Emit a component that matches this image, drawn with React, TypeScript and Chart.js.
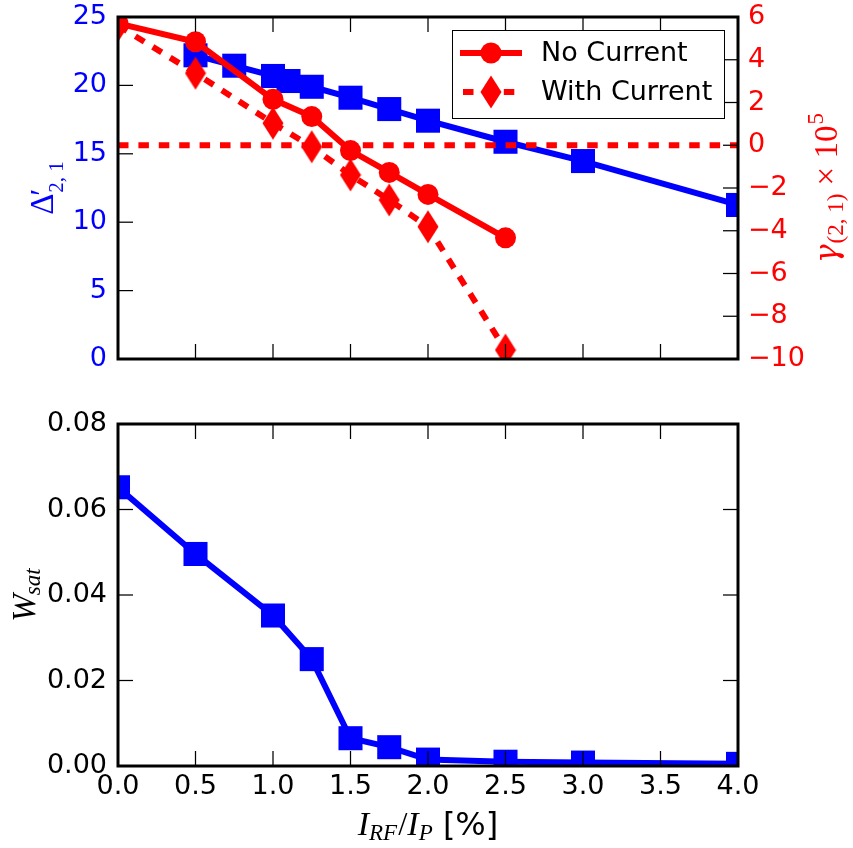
import React, { useEffect, useRef } from 'react';
import { Chart, registerables } from 'chart.js';

Chart.register(...registerables);

// ---------------- data ----------------
const xTickValues = [0, 0.5, 1.0, 1.5, 2.0, 2.5, 3.0, 3.5, 4.0];
const deltaTickValues = [0, 5, 10, 15, 20, 25];
const gammaTickValues = [-10, -8, -6, -4, -2, 0, 2, 4, 6];
const wsatTickValues = [0, 0.02, 0.04, 0.06, 0.08];

const xDelta = [0.5, 0.75, 1.0, 1.1, 1.25, 1.5, 1.75, 2.0, 2.5, 3.0, 4.0];
const deltaPrime = [22.2, 21.44, 20.69, 20.32, 19.9, 19.1, 18.27, 17.42, 15.88, 14.47, 11.26];

const xNoCurrent = [0, 0.5, 1.0, 1.25, 1.5, 1.75, 2.0, 2.5];
const gammaNoCurrent = [5.7, 4.84, 2.15, 1.34, -0.25, -1.27, -2.3, -4.33];

const xWithCurrent = [0, 0.5, 1.0, 1.25, 1.5, 1.75, 2.0, 2.5];
const gammaWithCurrent = [5.6, 3.37, 1.03, -0.07, -1.39, -2.56, -3.81, -9.58];

const xZeroLine = [0, 4];
const yZeroLine = [0, 0];

const xWsat = [0, 0.5, 1.0, 1.25, 1.5, 1.75, 2.0, 2.5, 3.0, 4.0];
const wSat = [0.0652, 0.0496, 0.0352, 0.025, 0.0065, 0.0044, 0.0015, 0.001, 0.0008, 0.0005];

const legendLabels = ['No Current', 'With Current'];

// ---------------- styles ----------------
const BLUE = '#0000ff';
const RED = '#ff0000';
const TICK_FONT = { family: '"DejaVu Sans", sans-serif', size: 27 };
const SERIF = '"Liberation Serif", "DejaVu Serif", serif';
const MATH = 33;
const SUB = 23;
const TICK_LEN = 15;

const pts = (xs: number[], ys: number[]) => xs.map((x, i) => ({ x, y: ys[i] }));
const fixedTicks = (vals: number[]) => (scale: any) => {
  scale.ticks = vals.map((v) => ({ value: v }));
};
const minus = (s: string) => s.replace('-', '\u2212');
const fitTo = (w: number | null, h: number | null) => (s: any) => {
  if (w !== null) s.width = w;
  if (h !== null) s.height = h;
  s.paddingTop = 0;
  s.paddingBottom = 0;
  s.paddingLeft = 0;
  s.paddingRight = 0;
};

function makeDiamond(color: string) {
  const c = document.createElement('canvas');
  c.width = 22;
  c.height = 34;
  const g = c.getContext('2d')!;
  g.fillStyle = color;
  g.beginPath();
  g.moveTo(11, 0.5);
  g.lineTo(21.5, 17);
  g.lineTo(11, 33.5);
  g.lineTo(0.5, 17);
  g.closePath();
  g.fill();
  return c;
}

type Seg = { t: string; font: string; dy?: number; dx?: number; adv?: number };

function drawMath(ctx: CanvasRenderingContext2D, segs: Seg[], x: number, y: number, rot: number, color: string) {
  ctx.save();
  ctx.translate(x, y);
  ctx.rotate(rot);
  ctx.fillStyle = color;
  ctx.textBaseline = 'alphabetic';
  ctx.textAlign = 'left';
  const ws = segs.map((s) => {
    ctx.font = s.font;
    return s.adv !== undefined ? s.adv : ctx.measureText(s.t).width + (s.dx || 0);
  });
  const total = ws.reduce((a, b) => a + b, 0);
  let cx = -total / 2;
  segs.forEach((s, i) => {
    ctx.font = s.font;
    ctx.fillText(s.t, cx + (s.dx || 0), s.dy || 0);
    cx += ws[i];
  });
  ctx.restore();
}

type Edge = 'top' | 'bottom' | 'left' | 'right';
function frameTicks(edges: Record<string, Edge[]>) {
  return {
    id: 'frameTicks',
    afterDraw(chart: any) {
      const { ctx, chartArea: a } = chart;
      ctx.save();
      ctx.strokeStyle = '#000';
      ctx.lineWidth = 1.25;
      for (const id of Object.keys(edges)) {
        const s = chart.scales[id];
        for (const t of s.ticks) {
          const p = s.getPixelForValue(t.value);
          for (const e of edges[id]) {
            ctx.beginPath();
            if (e === 'top') { ctx.moveTo(p, a.top); ctx.lineTo(p, a.top + TICK_LEN); }
            if (e === 'bottom') { ctx.moveTo(p, a.bottom); ctx.lineTo(p, a.bottom - TICK_LEN); }
            if (e === 'left') { ctx.moveTo(a.left, p); ctx.lineTo(a.left + TICK_LEN, p); }
            if (e === 'right') { ctx.moveTo(a.right, p); ctx.lineTo(a.right - TICK_LEN, p); }
            ctx.stroke();
          }
        }
      }
      ctx.lineWidth = 3;
      ctx.strokeRect(a.left, a.top, a.right - a.left, a.bottom - a.top);
      ctx.restore();
    },
  };
}

const noGrid = { display: false, drawTicks: false };
const noBorder = { display: false };

export default function App() {
  const topRef = useRef<HTMLCanvasElement>(null);
  const botRef = useRef<HTMLCanvasElement>(null);

  useEffect(() => {
    const diamond = makeDiamond(RED);

    const legendPlugin = {
      id: 'boxLegend',
      afterDraw(chart: any) {
        const { ctx, chartArea: a } = chart;
        const w = 272, h = 88;
        const x0 = a.right - 14 - w;
        const y0 = a.top + 13;
        ctx.save();
        ctx.fillStyle = '#fff';
        ctx.fillRect(x0, y0, w, h);
        ctx.strokeStyle = '#000';
        ctx.lineWidth = 1;
        ctx.strokeRect(x0 + 0.5, y0 + 0.5, w, h);
        [0, 1].forEach((i) => {
          const ds = chart.data.datasets[i];
          const cy = y0 + 23 + i * 39;
          ctx.strokeStyle = ds.borderColor;
          ctx.lineWidth = ds.borderWidth;
          ctx.setLineDash(ds.borderDash || []);
          ctx.lineDashOffset = -3;
          ctx.beginPath();
          ctx.moveTo(x0 + 8, cy);
          ctx.lineTo(x0 + 70, cy);
          ctx.stroke();
          ctx.setLineDash([]);
          const mx = x0 + 39;
          if (ds.pointStyle === 'circle') {
            ctx.fillStyle = ds.pointBackgroundColor;
            ctx.beginPath();
            ctx.arc(mx, cy, ds.pointRadius, 0, Math.PI * 2);
            ctx.fill();
          } else {
            ctx.drawImage(ds.pointStyle, mx - ds.pointStyle.width / 2, cy - ds.pointStyle.height / 2);
          }
          ctx.fillStyle = '#000';
          ctx.font = `${TICK_FONT.size}px ${TICK_FONT.family}`;
          ctx.textBaseline = 'middle';
          ctx.textAlign = 'left';
          ctx.fillText(ds.label, x0 + 89, cy + 1);
        });
        ctx.restore();
      },
    };

    const topLabels = {
      id: 'topLabels',
      afterDraw(chart: any) {
        const { ctx, chartArea: a } = chart;
        const cy = (a.top + a.bottom) / 2;
        drawMath(ctx, [
          { t: '\u0394', font: `${MATH}px ${SERIF}` },
          { t: '\u2032', font: `${MATH}px ${SERIF}`, dx: -2, adv: 0 },
          { t: '2, 1', font: `${SUB - 2}px ${SERIF}`, dy: 10, dx: 1 },
        ], 53, cy, -Math.PI / 2, BLUE);
        drawMath(ctx, [
          { t: '\u03b3', font: `italic ${MATH - 2}px "DejaVu Serif", serif` },
          { t: '(2, 1)', font: `${SUB}px ${SERIF}`, dy: 6, dx: 1 },
          { t: ' \u00d7 10', font: `${MATH}px ${SERIF}` },
          { t: '5', font: `${SUB}px ${SERIF}`, dy: -14, dx: 1 },
        ], 837, cy, -Math.PI / 2, RED);
      },
    };

    const botLabels = {
      id: 'botLabels',
      afterDraw(chart: any) {
        const { ctx, chartArea: a } = chart;
        const cy = (a.top + a.bottom) / 2;
        const cx = (a.left + a.right) / 2;
        drawMath(ctx, [
          { t: 'W', font: `italic ${MATH}px ${SERIF}` },
          { t: 'sat', font: `italic ${SUB}px ${SERIF}`, dy: 5, dx: -1 },
        ], 35, cy, -Math.PI / 2, '#000');
        drawMath(ctx, [
          { t: 'I', font: `italic ${MATH + 1}px ${SERIF}` },
          { t: 'RF', font: `italic ${SUB}px ${SERIF}`, dy: 5 },
          { t: '/', font: `${MATH}px ${SERIF}`, dx: 1 },
          { t: 'I', font: `italic ${MATH + 1}px ${SERIF}` },
          { t: 'P', font: `italic ${SUB}px ${SERIF}`, dy: 5 },
          { t: ' [%]', font: `32px "DejaVu Sans", sans-serif` },
        ], cx, a.bottom + 69, 0, '#000');
      },
    };

    const top = new Chart(topRef.current!, {
      type: 'line',
      data: {
        datasets: [
          {
            label: legendLabels[0],
            data: pts(xNoCurrent, gammaNoCurrent),
            yAxisID: 'yR',
            borderColor: RED,
            backgroundColor: RED,
            borderWidth: 6,
            pointStyle: 'circle',
            pointRadius: 10.5,
            pointBorderWidth: 0,
            pointBackgroundColor: RED,
            clip: 0,
            order: 0,
          } as any,
          {
            label: legendLabels[1],
            data: pts(xWithCurrent, gammaWithCurrent),
            yAxisID: 'yR',
            borderColor: RED,
            backgroundColor: RED,
            borderWidth: 6,
            borderDash: [10.5, 9.9],
            borderCapStyle: 'butt',
            pointStyle: diamond,
            pointRadius: 17,
            pointBorderWidth: 0,
            pointBackgroundColor: RED,
            clip: 0,
            order: 1,
          } as any,
          {
            label: 'zero',
            data: pts(xZeroLine, yZeroLine),
            yAxisID: 'yR',
            borderColor: RED,
            borderWidth: 6,
            borderDash: [10.5, 9.9],
            borderCapStyle: 'butt',
            pointRadius: 0,
            clip: 0,
            order: 2,
          } as any,
          {
            label: 'delta',
            data: pts(xDelta, deltaPrime),
            yAxisID: 'yL',
            borderColor: BLUE,
            backgroundColor: BLUE,
            borderWidth: 6,
            pointStyle: 'rect',
            pointRadius: 17,
            pointBorderWidth: 0,
            pointBackgroundColor: BLUE,
            clip: 0,
            order: 3,
          } as any,
        ],
      },
      options: {
        responsive: false,
        animation: false,
        devicePixelRatio: 1,
        events: [],
        layout: { padding: { top: 17, left: 0, right: 0, bottom: 0 } },
        plugins: { legend: { display: false }, tooltip: { enabled: false } },
        scales: {
          x: {
            type: 'linear', position: 'bottom', min: 0, max: 4,
            afterBuildTicks: fixedTicks(xTickValues),
            afterFit: fitTo(null, 41),
            ticks: { display: false },
            grid: noGrid, border: noBorder,
          },
          yL: {
            type: 'linear', position: 'left', min: 0, max: 25,
            afterBuildTicks: fixedTicks(deltaTickValues),
            afterFit: fitTo(118, null),
            ticks: { color: BLUE, font: TICK_FONT, padding: 11, callback: (v: any) => String(v) },
            grid: noGrid, border: noBorder,
          },
          yR: {
            type: 'linear', position: 'right', min: -10, max: 6,
            afterBuildTicks: fixedTicks(gammaTickValues),
            afterFit: fitTo(115, null),
            ticks: { color: RED, font: TICK_FONT, padding: 10, callback: (v: any) => minus(String(v)) },
            grid: noGrid, border: noBorder,
          },
        } as any,
      },
      plugins: [frameTicks({ x: ['top', 'bottom'], yL: ['left'], yR: ['right'] }), legendPlugin, topLabels],
    });

    const bot = new Chart(botRef.current!, {
      type: 'line',
      data: {
        datasets: [
          {
            label: 'W_sat',
            data: pts(xWsat, wSat),
            borderColor: BLUE,
            backgroundColor: BLUE,
            borderWidth: 6,
            pointStyle: 'rect',
            pointRadius: 17,
            pointBorderWidth: 0,
            pointBackgroundColor: BLUE,
            clip: 0,
          } as any,
        ],
      },
      options: {
        responsive: false,
        animation: false,
        devicePixelRatio: 1,
        events: [],
        layout: { padding: { top: 24, left: 0, right: 115, bottom: 0 } },
        plugins: { legend: { display: false }, tooltip: { enabled: false } },
        scales: {
          x: {
            type: 'linear', position: 'bottom', min: 0, max: 4,
            afterBuildTicks: fixedTicks(xTickValues),
            afterFit: fitTo(null, 82),
            ticks: { color: '#000', font: TICK_FONT, padding: 5, maxRotation: 0, autoSkip: false, callback: (v: any) => Number(v).toFixed(1) },
            grid: noGrid, border: noBorder,
          },
          y: {
            type: 'linear', position: 'left', min: 0, max: 0.08,
            afterBuildTicks: fixedTicks(wsatTickValues),
            afterFit: fitTo(118, null),
            ticks: { color: '#000', font: TICK_FONT, padding: 11, callback: (v: any) => Number(v).toFixed(2) },
            grid: noGrid, border: noBorder,
          },
        } as any,
      },
      plugins: [frameTicks({ x: ['top', 'bottom'], y: ['left', 'right'] }), botLabels],
    });

    return () => {
      top.destroy();
      bot.destroy();
    };
  }, []);

  return (
    <div style={{ position: 'absolute', left: 0, top: 0, width: 853, height: 848, background: '#fff' }}>
      <canvas ref={topRef} width={853} height={400} style={{ position: 'absolute', left: 0, top: 0, width: 853, height: 400 }} />
      <canvas ref={botRef} width={853} height={448} style={{ position: 'absolute', left: 0, top: 400, width: 853, height: 448 }} />
    </div>
  );
}
